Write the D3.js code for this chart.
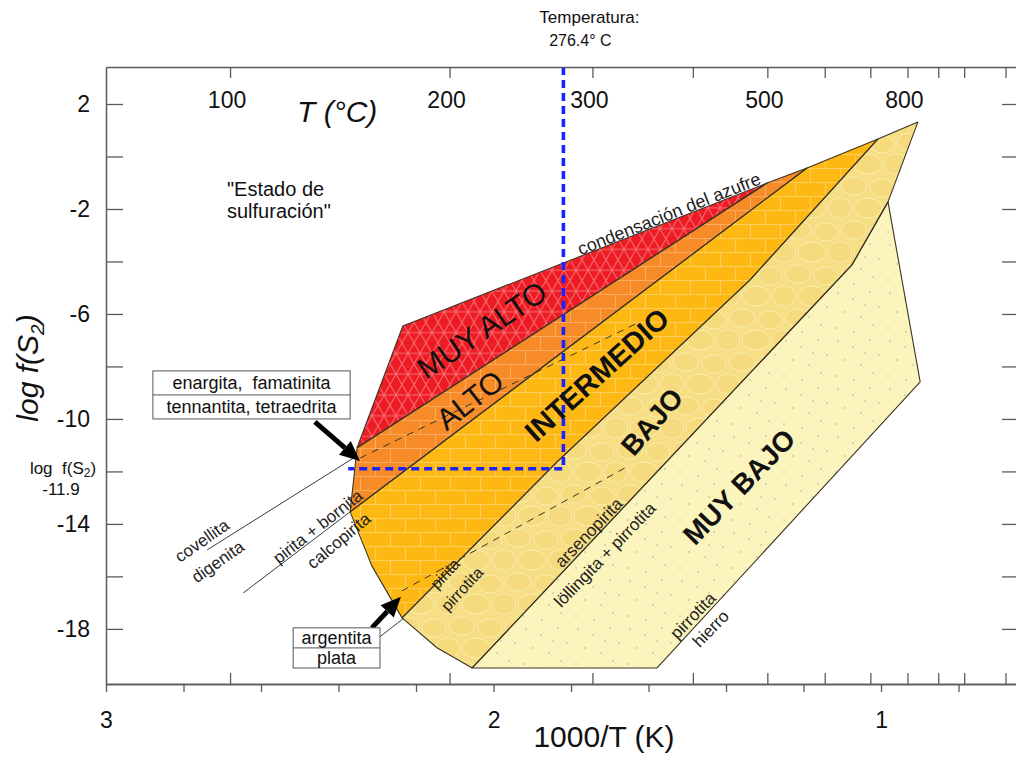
<!DOCTYPE html>
<html>
<head>
<meta charset="utf-8">
<script src="https://cdn.jsdelivr.net/npm/d3@7"></script>
<style>
  body { margin: 0; background: #fff; }
  svg { display: block; font-family: "Liberation Sans", Arial, sans-serif; }
  svg text { white-space: pre; }
</style>
</head>
<body>
<svg id="chart" width="1016" height="758"></svg>
<script>
// ---- axis values ----
const invTempDomain = [3, 0.644];          // 1000/T (K)
const logFS2Domain = [-20.1, 3.41];        // log f(S2)
const invTempTicks = [3, 2.8, 2.6, 2.4, 2.2, 2, 1.8, 1.6, 1.4, 1.2, 1, 0.8];
const invTempLabels = [3, 2, 1];
const tempTicksC = [100, 200, 300, 400, 500, 600, 700, 800, 900, 1000, 1200];
const tempLabelsC = [100, 200, 300, 500, 800];
const logTicks = [2, 0, -2, -4, -6, -8, -10, -12, -14, -16, -18];
const logLabels = [2, -2, -6, -10, -14, -18];

// ---- sulfidation-state fields, vertices as [1000/T, log f(S2)] ----
const muyAlto = [[2.234, -6.46], [1.294, -1.01], [2.352, -11.10]];
const alto = [[2.352, -11.10], [1.294, -1.01], [1.191, -0.44], [2.370, -13.54]];
const intermedio = [[2.370, -13.54], [1.191, -0.44], [1.008, 0.67], [1.338, -4.70],
                    [1.836, -11.64], [2.236, -17.58], [2.314, -15.60]];
const bajo = [[2.236, -17.58], [1.836, -11.64], [1.338, -4.70], [1.008, 0.67], [0.905, 1.31],
              [0.982, -1.73], [1.075, -4.13], [2.055, -19.49], [2.146, -18.72]];
const muyBajo = [[0.982, -1.73], [0.899, -8.59], [1.578, -19.49], [2.055, -19.49], [1.075, -4.13]];

// ---- mineral reaction lines ----
const covellitaDigenita = [[2.739, -14.99], [2.357, -11.45]];
const piritaBornita = [[2.646, -16.63], [2.370, -13.54]];
const argentitaPlata = [[2.293, -18.30], [2.234, -17.62]];
const enargitaTennantita = [[2.3445, -11.49], [1.622, -6.30]];   // dashed
const piritaPirrotita = [[2.236, -16.55], [1.661, -11.87]];      // dashed

// ---- selected condition ----
const tempC = 276.4;
const logS2 = -11.9;
const logS2LineStart = 2.375;

// ---- callouts ----
const arrowEnargita = [[2.461, -10.11], [2.3445, -11.60]];
const arrowArgentita = [[2.314, -17.96], [2.239, -16.78]];
const boxEnargita = { x0: 2.879, x1: 2.370, y0: -8.17, y1: -10.0, rows: ["enargita,  famatinita", "tennantita, tetraedrita"] };
const boxArgentita = { x0: 2.517, x1: 2.293, y0: -17.96, y1: -19.49, rows: ["argentita", "plata"] };

// ---- field names and line labels: [text, 1000/T, log f(S2), angle, weight, size] ----
const fieldLabels = [
  ["MUY ALTO", 2.030, -6.61, -34, "normal", 30],
  ["ALTO", 2.061, -9.28, -38, "normal", 30],
  ["INTERMEDIO", 1.733, -8.32, -42, "bold", 29],
  ["BAJO", 1.591, -10.11, -49, "bold", 28],
  ["MUY BAJO", 1.366, -12.59, -46, "bold", 28]
];
const lineLabels = [
  ["condensación del azufre", 1.547, -2.19, -21.6, 18],
  ["covellita", 2.752, -14.65, -35, 17],
  ["digenita", 2.711, -15.45, -35, 17],
  ["pirita + bornita", 2.453, -14.11, -38, 17],
  ["calcopirita", 2.399, -14.65, -40, 17],
  ["pirita", 2.125, -15.90, -47, 16],
  ["pirrotita", 2.081, -16.48, -47, 16],
  ["arsenopirita", 1.754, -14.34, -46, 17],
  ["löllingita + pirrotita", 1.712, -15.18, -46, 17],
  ["pirrotita", 1.485, -17.50, -46, 17],
  ["hierro", 1.439, -18.00, -46, 17]
];

// ---- scales ----
const x = d3.scaleLinear().domain(invTempDomain).range([106, 1019]);
const y = d3.scaleLinear().domain(logFS2Domain).range([684, 67]);
const invT = c => 1000 / (c + 273.15);

const svg = d3.select("#chart");
const defs = svg.append("defs");

// ---- fill textures ----
const s3 = Math.sqrt(3);
const triW = 24, triH = triW * s3;
defs.append("pattern").attr("id", "texRed").attr("patternUnits", "userSpaceOnUse")
  .attr("width", triW).attr("height", triH)
  .append("path")
  .attr("d", `M0,0H${triW}M0,${triH / 2}H${triW}M0,${triH}H${triW}
              M0,0L${triW},${triH}M${triW},0L0,${triH}
              M${triW / 2},0L${triW},${triH / 2}L${triW / 2},${triH}L0,${triH / 2}Z`)
  .attr("fill", "none").attr("stroke", "rgba(255,195,195,0.5)").attr("stroke-width", 1);

function brick(id, color) {
  const p = defs.append("pattern").attr("id", id).attr("patternUnits", "userSpaceOnUse")
    .attr("width", 30).attr("height", 28);
  p.append("path")
    .attr("d", "M0,0.5H30M0,14.5H30M0.5,0V14M15.5,14V28")
    .attr("fill", "none").attr("stroke", color).attr("stroke-width", 1.1);
}
brick("texAlto", "rgba(255,185,120,0.7)");
brick("texInter", "rgba(255,212,120,0.75)");

const cell = defs.append("pattern").attr("id", "texBajo").attr("patternUnits", "userSpaceOnUse")
  .attr("width", 56).attr("height", 44);
[[14, 10, 13, 9], [42, 12, 12, 9], [28, 32, 14, 10], [0, 32, 12, 10], [56, 32, 12, 10]].forEach(e => {
  cell.append("ellipse").attr("cx", e[0]).attr("cy", e[1]).attr("rx", e[2]).attr("ry", e[3])
    .attr("fill", "rgba(242,208,100,0.22)").attr("stroke", "rgba(255,244,200,0.6)").attr("stroke-width", 1);
});

const speck = defs.append("pattern").attr("id", "texMuyBajo").attr("patternUnits", "userSpaceOnUse")
  .attr("width", 52).attr("height", 48);
[[6, 5], [21, 11], [38, 4], [47, 19], [13, 24], [29, 29], [41, 37], [4, 40], [22, 44], [33, 17]].forEach(d => {
  speck.append("circle").attr("cx", d[0]).attr("cy", d[1]).attr("r", 0.9).attr("fill", "rgba(150,160,175,0.55)");
});

// ---- fields ----
const line = d3.line().x(d => x(d[0])).y(d => y(d[1]));
const polyPath = pts => line(pts) + "Z";
const fields = [
  [muyAlto, "#ED1C24", "texRed"],
  [alto, "#F68B28", "texAlto"],
  [intermedio, "#FDB813", "texInter"],
  [bajo, "#F6DE84", "texBajo"],
  [muyBajo, "#FBF4BC", "texMuyBajo"]
];
const gFields = svg.append("g");
fields.forEach(([pts, color, tex]) => {
  gFields.append("path").attr("d", polyPath(pts)).attr("fill", color);
  gFields.append("path").attr("d", polyPath(pts)).attr("fill", `url(#${tex})`);
});
fields.forEach(([pts]) => {
  gFields.append("path").attr("d", polyPath(pts)).attr("fill", "none")
    .attr("stroke", "#3b3424").attr("stroke-width", 1.1).attr("stroke-linejoin", "round");
});

// ---- reaction lines ----
[covellitaDigenita, piritaBornita, argentitaPlata].forEach(pts => {
  svg.append("path").attr("d", line(pts)).attr("fill", "none")
    .attr("stroke", "#3b3b3b").attr("stroke-width", 1);
});
[enargitaTennantita, piritaPirrotita].forEach(pts => {
  svg.append("path").attr("d", line(pts)).attr("fill", "none")
    .attr("stroke", "#3b3424").attr("stroke-width", 1).attr("stroke-dasharray", "7,6");
});

// ---- selected temperature and log f(S2) ----
const tInv = invT(tempC);
svg.append("path")
  .attr("d", line([[tInv, logFS2Domain[1]], [tInv, logS2], [logS2LineStart, logS2]]))
  .attr("fill", "none").attr("stroke", "#1a22ff").attr("stroke-width", 3.6)
  .attr("stroke-dasharray", "8,5");

// ---- callout arrows ----
function arrow(pts) {
  const [x0, y0] = [x(pts[0][0]), y(pts[0][1])];
  const [x1, y1] = [x(pts[1][0]), y(pts[1][1])];
  const a = Math.atan2(y1 - y0, x1 - x0);
  const head = 20, hw = 9;
  const bx = x1 - head * Math.cos(a), by = y1 - head * Math.sin(a);
  svg.append("line").attr("x1", x0).attr("y1", y0).attr("x2", bx).attr("y2", by)
    .attr("stroke", "#000").attr("stroke-width", 5);
  svg.append("path")
    .attr("d", `M${x1},${y1}L${bx + hw * Math.sin(a)},${by - hw * Math.cos(a)}L${bx - hw * Math.sin(a)},${by + hw * Math.cos(a)}Z`)
    .attr("fill", "#000");
}
arrow(arrowEnargita);
arrow(arrowArgentita);

// ---- callout boxes ----
function box(b, fs) {
  const X0 = x(b.x0), X1 = x(b.x1), Y0 = y(b.y0), Y1 = y(b.y1);
  const g = svg.append("g");
  g.append("rect").attr("x", X0).attr("y", Y0).attr("width", X1 - X0).attr("height", Y1 - Y0)
    .attr("fill", "#fff").attr("stroke", "#555").attr("stroke-width", 1);
  g.append("line").attr("x1", X0).attr("x2", X1).attr("y1", (Y0 + Y1) / 2).attr("y2", (Y0 + Y1) / 2)
    .attr("stroke", "#555").attr("stroke-width", 1);
  const rh = (Y1 - Y0) / 2;
  b.rows.forEach((t, i) => {
    g.append("text").attr("x", (X0 + X1) / 2).attr("y", Y0 + rh * i + rh / 2)
      .attr("text-anchor", "middle").attr("dominant-baseline", "central")
      .attr("font-size", fs).attr("fill", "#111").text(t);
  });
}
box(boxEnargita, 18);
box(boxArgentita, 18);

// ---- labels ----
fieldLabels.forEach(([t, vx, vy, ang, w, fs]) => {
  svg.append("text").attr("transform", `translate(${x(vx)},${y(vy)}) rotate(${ang})`)
    .attr("text-anchor", "middle").attr("dominant-baseline", "central")
    .attr("font-size", fs).attr("font-weight", w).attr("fill", "#111").text(t);
});
lineLabels.forEach(([t, vx, vy, ang, fs]) => {
  svg.append("text").attr("transform", `translate(${x(vx)},${y(vy)}) rotate(${ang})`)
    .attr("text-anchor", "middle").attr("dominant-baseline", "central")
    .attr("font-size", fs).attr("fill", "#222").text(t);
});

// ---- axes ----
const axisColor = "#5a5a5a";
function styleAxis(g) {
  g.selectAll("path.domain").attr("stroke", axisColor).attr("stroke-width", 1.5);
  g.selectAll(".tick line").attr("stroke", axisColor).attr("stroke-width", 1.3);
  g.selectAll(".tick text").attr("fill", "#111").attr("font-size", 23)
    .attr("font-family", "Liberation Sans, Arial, sans-serif");
}
// bottom: 1000/T ticks outside, temperature ticks inside
svg.append("g").attr("transform", "translate(0,684)")
  .call(d3.axisBottom(x).tickValues(invTempTicks).tickSizeInner(8).tickSizeOuter(0).tickPadding(20)
    .tickFormat(d => invTempLabels.includes(d) ? d : ""))
  .call(styleAxis);
svg.append("g").attr("transform", "translate(0,684)")
  .call(d3.axisBottom(x).tickValues(tempTicksC.map(invT)).tickSizeInner(-11).tickSizeOuter(0).tickFormat(""))
  .call(styleAxis);
// top: temperature (°C)
svg.append("g").attr("transform", "translate(0,67)")
  .call(d3.axisTop(x).tickValues(tempTicksC.map(invT)).tickSizeInner(-11).tickSizeOuter(0).tickFormat(""))
  .call(styleAxis);
tempLabelsC.forEach(c => {
  svg.append("text").attr("x", x(invT(c)) - 3).attr("y", 108).attr("text-anchor", "middle")
    .attr("font-size", 23).attr("fill", "#111").text(c);
});
// left and right: log f(S2)
svg.append("g").attr("transform", "translate(106,0)")
  .call(d3.axisLeft(y).tickValues(logTicks).tickSizeInner(-17).tickSizeOuter(0).tickPadding(16)
    .tickFormat(d => logLabels.includes(d) ? d : ""))
  .call(styleAxis);
svg.append("g").attr("transform", "translate(1019,0)")
  .call(d3.axisRight(y).tickValues(logTicks).tickSizeInner(-17).tickSizeOuter(0).tickFormat(""))
  .call(styleAxis);

// ---- titles ----
svg.append("text").attr("x", 297).attr("y", 122).attr("font-size", 30).attr("font-style", "italic")
  .attr("fill", "#111").text("T (°C)");
svg.append("text").attr("x", 604).attr("y", 747).attr("text-anchor", "middle").attr("font-size", 30)
  .attr("fill", "#111").text("1000/T (K)");
const yTitle = svg.append("text").attr("transform", "translate(38,368) rotate(-90)")
  .attr("text-anchor", "middle").attr("font-size", 30).attr("font-style", "italic").attr("fill", "#111");
yTitle.append("tspan").text("log f(S");
yTitle.append("tspan").attr("font-size", 19).attr("dy", 6).text("2");
yTitle.append("tspan").attr("dy", -6).text(")");

svg.append("text").attr("x", 227).attr("y", 196).attr("font-size", 20).attr("fill", "#111").text("\"Estado de");
svg.append("text").attr("x", 227).attr("y", 218).attr("font-size", 20).attr("fill", "#111").text("sulfuración\"");

// selected condition labels
const tx = x(tInv);
svg.append("text").attr("x", tx + 26).attr("y", 23).attr("text-anchor", "middle").attr("font-size", 17)
  .attr("fill", "#111").text("Temperatura:");
svg.append("text").attr("x", tx + 17).attr("y", 46).attr("text-anchor", "middle").attr("font-size", 16)
  .attr("fill", "#111").text(`${tempC}° C`);
const sLab = svg.append("text").attr("x", 63).attr("y", 474).attr("text-anchor", "middle")
  .attr("font-size", 17).attr("fill", "#111");
sLab.append("tspan").text("log  f(S");
sLab.append("tspan").attr("font-size", 12).attr("dy", 3).text("2");
sLab.append("tspan").attr("dy", -3).text(")");
svg.append("text").attr("x", 61).attr("y", 495).attr("text-anchor", "middle").attr("font-size", 17)
  .attr("fill", "#111").text(logS2.toFixed(1));
</script>
</body>
</html>
